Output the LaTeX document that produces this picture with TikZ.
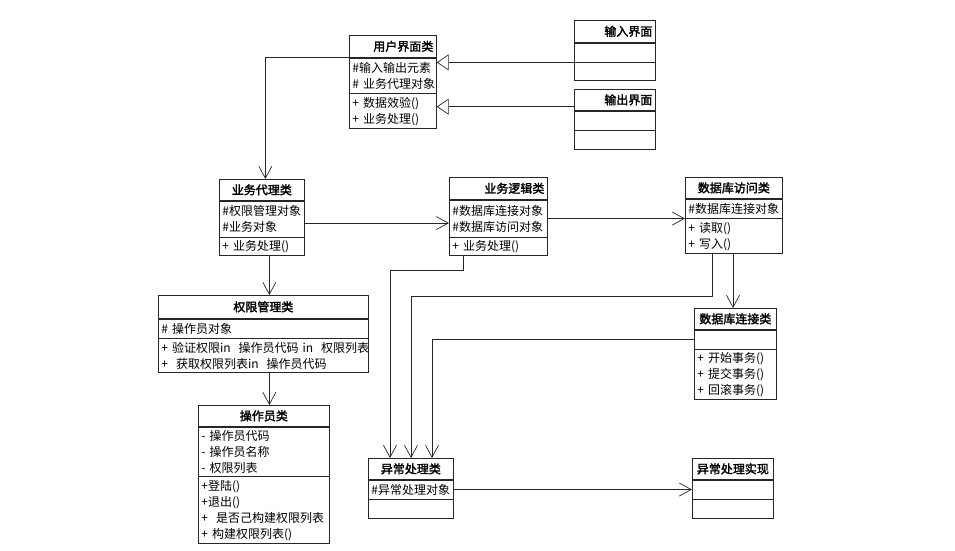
\documentclass[tikz,border=0pt]{standalone}
\usepackage{fontspec}
\setmainfont{Noto Sans CJK SC}[AutoFakeBold=2]
\usetikzlibrary{positioning, arrows.meta}

\begin{document}
\begin{tikzpicture}[x=1pt, y=-1pt,
  box/.style={draw=black!85, line width=0.7pt, anchor=north west, inner xsep=3pt, inner ysep=0pt, align=left, font=\fontsize{12}{16}\selectfont},
  head/.style={box, align=center, font=\fontsize{12}{16}\selectfont\bfseries},
  arr/.style={draw=black!85, line width=0.7pt, -{Straight Barb[length=12pt, width=13pt]}},
  gen/.style={draw=black!85, line width=0.7pt, -{Triangle[open, length=12pt, width=16pt, fill=white]}}]
 \useasboundingbox (0,0) rectangle (955,550);

 \node[head, align=right, text width=81, minimum height=22] (uiT) at (349,35) {用户界面类};
 \node[box, text width=81, minimum height=35] (uiA) at (uiT.south west) {\#输入输出元素\\\#~业务代理对象};
 \node[box, text width=81, minimum height=35] (uiM) at (uiA.south west) {+~数据效验()\\+~业务处理()};

 \node[head, align=right, text width=75, minimum height=22] (inT) at (574,20) {输入界面};
 \node[box, text width=75, minimum height=19] (inA) at (inT.south west) {};
 \node[box, text width=75, minimum height=18] (inM) at (inA.south west) {};

 \node[head, align=right, text width=75, minimum height=21] (outT) at (574,89) {输出界面};
 \node[box, text width=75, minimum height=19] (outA) at (outT.south west) {};
 \node[box, text width=75, minimum height=19] (outM) at (outA.south west) {};

 \node[head, text width=79, minimum height=21] (agT) at (219,179) {业务代理类};
 \node[box, text width=79, minimum height=36] (agA) at (agT.south west) {\#权限管理对象\\\#业务对象};
 \node[box, text width=79, minimum height=18] (agM) at (agA.south west) {+~业务处理()};

 \node[head, align=right, text width=92, minimum height=22] (lgT) at (449,177) {业务逻辑类};
 \node[box, text width=92, minimum height=37] (lgA) at (lgT.south west) {\#数据库连接对象\\\#数据库访问对象};
 \node[box, text width=92, minimum height=18] (lgM) at (lgA.south west) {+~业务处理()};

 \node[head, text width=91, minimum height=21] (daT) at (685,177) {数据库访问类};
 \node[box, text width=91, minimum height=19] (daA) at (daT.south west) {\#数据库连接对象};
 \node[box, text width=91, minimum height=35] (daM) at (daA.south west) {+~读取()\\+~写入()};

 \node[head, text width=204, minimum height=23] (pmT) at (158,295) {权限管理类};
 \node[box, text width=204, minimum height=19] (pmA) at (pmT.south west) {\#~操作员对象};
 \node[box, text width=204, minimum height=34] (pmM) at (pmA.south west) {+~验证权限in~~操作员代码~in~~权限列表\\+~~获取权限列表in~~操作员代码};

 \node[head, text width=76, minimum height=21] (cnT) at (694,308) {数据库连接类};
 \node[box, text width=76, minimum height=19] (cnA) at (cnT.south west) {};
 \node[box, text width=76, minimum height=50] (cnM) at (cnA.south west) {+~开始事务()\\+~提交事务()\\+~回滚事务()};

 \node[head, text width=125, minimum height=21] (opT) at (198,405) {操作员类};
 \node[box, text width=125, minimum height=49] (opA) at (opT.south west) {-~操作员代码\\-~操作员名称\\-~权限列表};
 \node[box, text width=125, minimum height=67] (opM) at (opA.south west) {+登陆()\\+退出()\\+~~是否己构建权限列表\\+~构建权限列表()};

 \node[head, text width=79, minimum height=21] (exT) at (368,458) {异常处理类};
 \node[box, text width=79, minimum height=19] (exA) at (exT.south west) {\#异常处理对象};
 \node[box, text width=79, minimum height=19] (exM) at (exA.south west) {};

 \node[head, text width=75, minimum height=21] (imT) at (692,458) {异常处理实现};
 \node[box, text width=75, minimum height=19] (imA) at (imT.south west) {};
 \node[box, text width=75, minimum height=19] (imM) at (imA.south west) {};

 \draw[gen] (inA.south west) -- (inA.south west -| uiT.east);
 \draw[gen] ([yshift=4]outT.south west) -- ([yshift=4]outT.south west -| uiT.east);
 \draw[arr] (uiT.south west) -| ([xshift=3.5]agT.north);
 \draw[arr] ([xshift=7.5]agM.south) -- ([xshift=7.5]agM.south |- pmT.north);
 \draw[arr] ([xshift=6]pmM.south) -- ([xshift=6]pmM.south |- opT.north);
 \draw[arr] ([yshift=-4]agA.east) -- ([yshift=-4]agA.east -| lgA.west);
 \draw[arr] (lgA.east) -- (lgA.east -| daM.west);
 \draw[arr] ([xshift=14]lgM.south west) -- ++(0,14) -| ([xshift=22]exT.north west);
 \draw[arr] ([xshift=27]daM.south west) -- ++(0,42) -| ([xshift=43]exT.north west);
 \draw[arr] ([xshift=48]daM.south west) -- ([xshift=48]daM.south west |- cnT.north);
 \draw[arr] (cnA.west) -| ([xshift=64]exT.north west);
 \draw[arr] (exA.east) -- (exA.east -| imA.west);
\end{tikzpicture}
\end{document}
